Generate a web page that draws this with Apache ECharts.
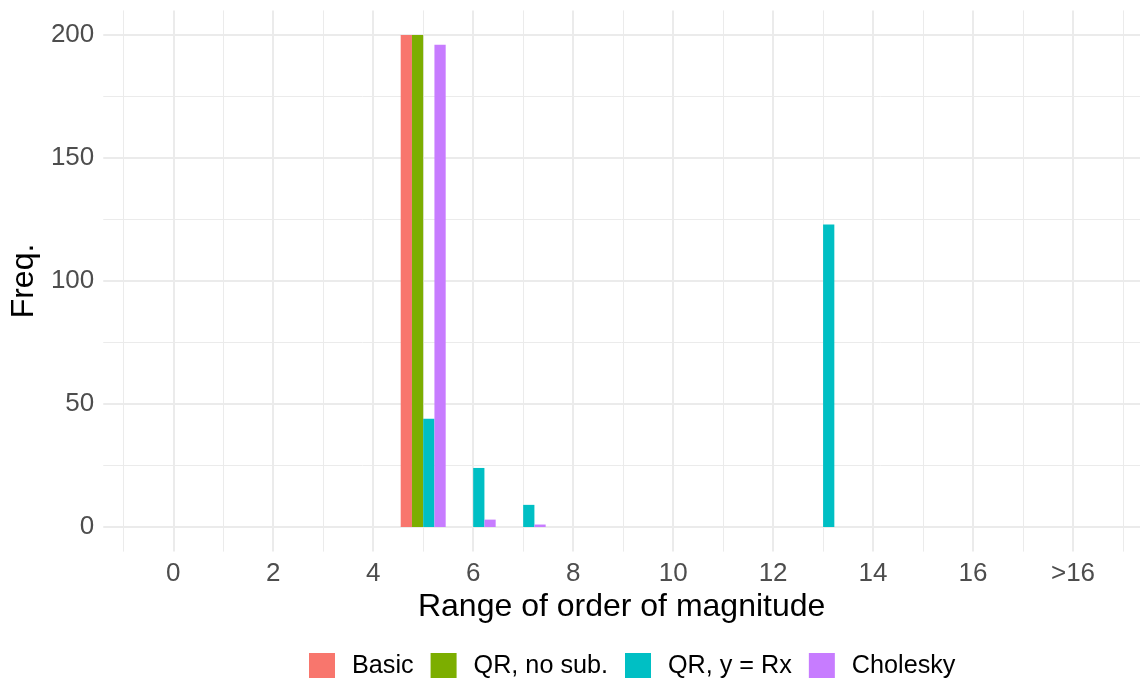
<!DOCTYPE html>
<html><head><meta charset="utf-8">
<script src="https://cdn.jsdelivr.net/npm/echarts@6/dist/echarts.min.js"></script>
<style>html,body{margin:0;padding:0;background:#fff}#c{width:1140px;height:678px}</style>
</head><body><div id="c"></div>
<script>
// ---- data ----
const bins = [5, 6, 7, 13];
const basic = [200, 0, 0, 0];
const qrNoSub = [200, 0, 0, 0];
const qrRx = [44, 24, 9, 123];
const cholesky = [196, 3, 1, 0];
const methodNames = ['Basic', 'QR, no sub.', 'QR, y = Rx', 'Cholesky'];
const methodValues = [basic, qrNoSub, qrRx, cholesky];
const colors = ['#F8766D', '#7CAE00', '#00BFC4', '#C77CFF'];
const xMajorTicks = [0, 2, 4, 6, 8, 10, 12, 14, 16, 18];
const xTickLabels = ['0', '2', '4', '6', '8', '10', '12', '14', '16', '>16'];
const xMinorTicks = [-1, 1, 3, 5, 7, 9, 11, 13, 15, 17, 19];
const yMajorTicks = [0, 50, 100, 150, 200];
const yMinorTicks = [25, 75, 125, 175];

const FONT = "'Liberation Sans', Arial, Helvetica, sans-serif";
const XMIN = -1.40, XMAX = 19.34, YMIN = -10, YMAX = 210;
const gridColor = '#EBEBEB';

const chart = echarts.init(document.getElementById('c'), null, {renderer: 'canvas'});

const series = methodNames.map((name, k) => ({
  name: name,
  type: 'bar',
  xAxisIndex: 0,
  yAxisIndex: 0,
  barWidth: '22.5%',
  barGap: '0%',
  itemStyle: {color: colors[k]},
  emphasis: {disabled: true},
  data: bins.map((b, i) => [b, methodValues[k][i]]).filter(d => d[1] > 0)
}));

chart.setOption({
  animation: false,
  textStyle: {fontFamily: FONT},
  grid: {left: 100, right: 0, top: 10.4, bottom: 126.4, containLabel: false},
  legend: {
    data: methodNames,
    left: 304, top: 648,
    icon: 'rect',
    itemWidth: 26, itemHeight: 26, itemGap: 17,
    textStyle: {fontSize: 25.2, color: '#000', fontFamily: FONT, padding: [0, 0, 0, 12]}
  },
  xAxis: [{
    type: 'value', min: XMIN, max: XMAX,
    name: 'Range of order of magnitude', nameLocation: 'middle', nameGap: 38,
    nameTextStyle: {fontSize: 32, color: '#000', fontFamily: FONT},
    axisLine: {show: false},
    axisTick: {show: false, customValues: xMajorTicks},
    axisLabel: {
      customValues: xMajorTicks, fontSize: 26, color: '#4D4D4D', margin: 9, fontFamily: FONT,
      formatter: v => { const i = xMajorTicks.indexOf(v); return i >= 0 ? xTickLabels[i] : ''; }
    },
    splitLine: {show: true, lineStyle: {color: gridColor, width: 2}}
  }, {
    type: 'value', min: XMIN, max: XMAX, position: 'bottom',
    axisLine: {show: false},
    axisTick: {show: false, customValues: xMinorTicks},
    axisLabel: {show: false},
    splitLine: {show: true, lineStyle: {color: gridColor, width: 1}}
  }],
  yAxis: [{
    type: 'value', min: YMIN, max: YMAX,
    name: 'Freq.', nameLocation: 'middle', nameGap: 62,
    nameTextStyle: {fontSize: 32, color: '#000', fontFamily: FONT},
    axisLine: {show: false},
    axisTick: {show: false, customValues: yMajorTicks},
    axisLabel: {customValues: yMajorTicks, fontSize: 26, color: '#4D4D4D', margin: 9, fontFamily: FONT},
    splitLine: {show: true, lineStyle: {color: gridColor, width: 2}}
  }, {
    type: 'value', min: YMIN, max: YMAX, position: 'left',
    axisLine: {show: false},
    axisTick: {show: false, customValues: yMinorTicks},
    axisLabel: {show: false},
    splitLine: {show: true, lineStyle: {color: gridColor, width: 1}}
  }],
  series: series
});
</script></body></html>
